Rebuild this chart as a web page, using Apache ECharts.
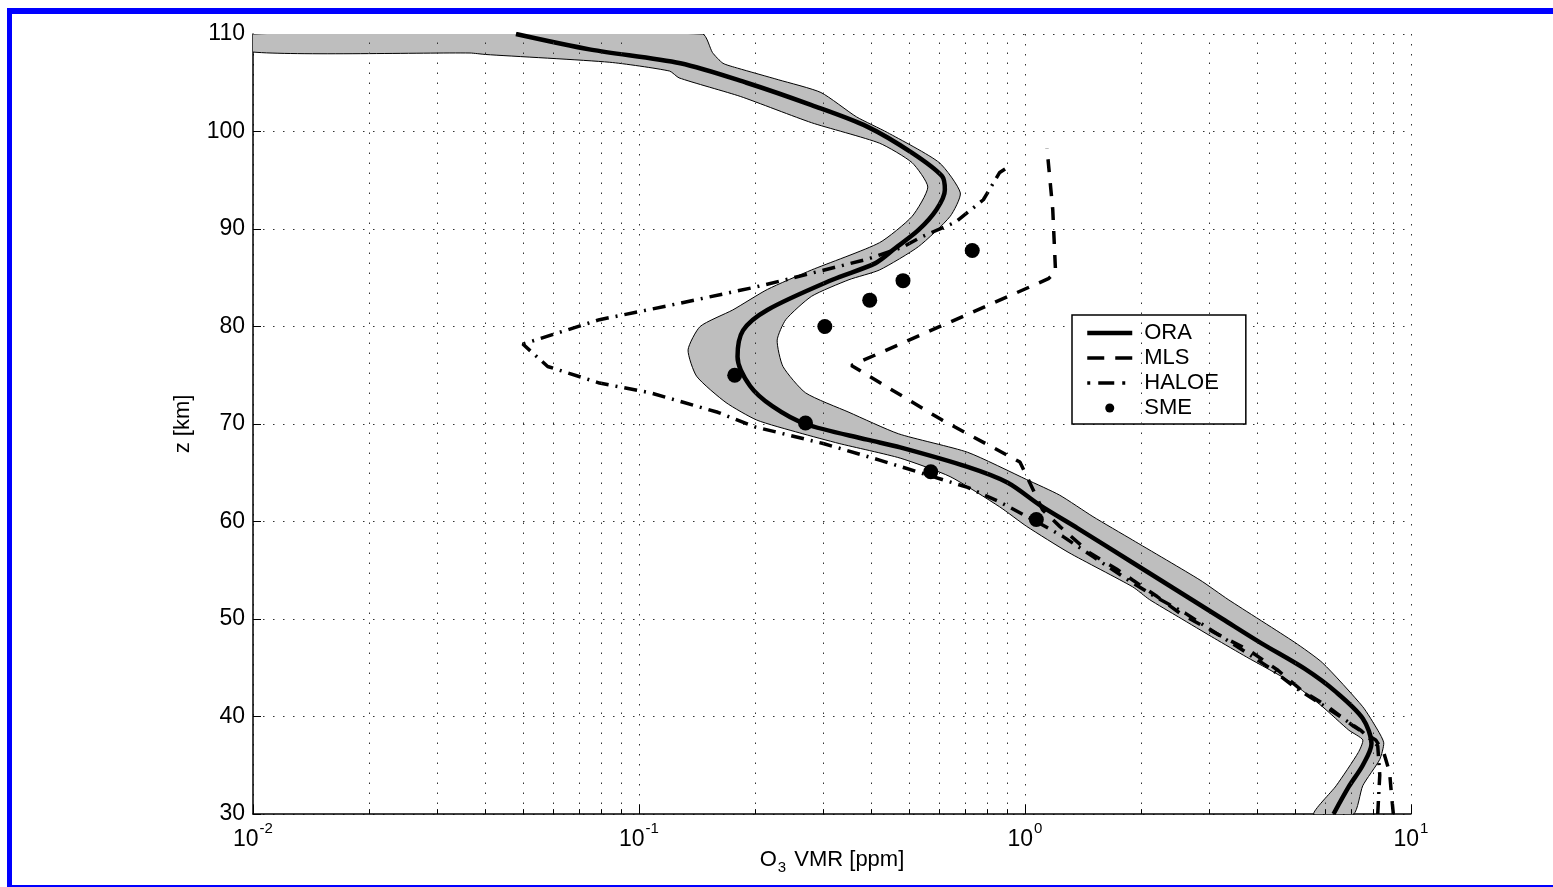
<!DOCTYPE html>
<html>
<head>
<meta charset="utf-8">
<title>O3 VMR profile</title>
<script src="https://cdn.jsdelivr.net/npm/echarts@6/dist/echarts.min.js"></script>
<style>
html, body { margin: 0; padding: 0; background: #fff; }
#frame {
  position: absolute; left: 7px; top: 8px; width: 1546px; height: 879px;
  box-sizing: border-box;
  border-top: 6px solid #0000ff; border-left: 5px solid #0000ff; border-bottom: 2px solid #0000ff;
}
#chart { position: absolute; left: 0; top: 0; width: 1553px; height: 887px; }
</style>
</head>
<body>
<div id="frame"></div>
<div id="chart"></div>
<script>
// ORA retrieval (thick solid line), altitude in km, VMR in ppm
const oraZ = [30, 32.8, 35, 37.2, 39.8, 42.5, 44.9, 47.5, 50, 52, 55.9, 59.3, 61.6, 64, 65.6, 67.6, 68.4, 70, 71.8, 73.9, 76.9, 79.6, 81.7, 84.8, 86.5, 88, 89.9, 92, 94, 95.4, 97.8, 100.5, 102.7, 105, 107, 108.4, 110]
const oraVmr = [6.3, 6.9, 7.5, 7.9, 7.5, 6.4, 5.3, 4.1, 3.25, 2.7, 1.88, 1.37, 1.1, 0.90, 0.71, 0.475, 0.39, 0.27, 0.222, 0.194, 0.180, 0.186, 0.215, 0.317, 0.41, 0.46, 0.53, 0.59, 0.62, 0.61, 0.51, 0.39, 0.28, 0.19, 0.128, 0.075, 0.048]

// gray error band: low edge and high edge
const bandLowZ = [30, 32.9, 36.3, 37.6, 38.6, 41, 43.5, 46.1, 48, 50.2, 52, 53.3, 56.8, 59.5, 61.5, 64.6, 66.5, 68, 69.1, 70.4, 72.2, 74.9, 77.6, 80, 81.7, 83.8, 85.8, 88.6, 91.3, 94.3, 96.8, 98.8, 100.9, 103.6, 105.5, 106.2, 107.1, 107.9, 108.05, 108.15, 110]
const bandLowVmr = [5.6, 6.4, 7.3, 7.5, 6.9, 5.9, 4.9, 3.75, 3.1, 2.5, 2.1, 1.90, 1.3, 1.01, 0.86, 0.64, 0.475, 0.33, 0.26, 0.202, 0.168, 0.141, 0.134, 0.144, 0.175, 0.215, 0.28, 0.42, 0.51, 0.56, 0.51, 0.42, 0.28, 0.183, 0.127, 0.12, 0.084, 0.040, 0.0365, 0.01, 0.01]
const bandHighZ = [30, 32.9, 35.6, 37.3, 38.6, 41, 45.5, 47.6, 52, 54, 58.1, 60.5, 62.7, 64.3, 67.1, 69, 71.2, 73.2, 75.9, 78.6, 80.7, 83.1, 84.8, 85.8, 88.2, 91.3, 93.7, 96.8, 99.9, 101.5, 104, 105.3, 106.5, 107, 108.1, 110]
const bandHighVmr = [7.1, 7.5, 8.3, 8.5, 8.2, 7.5, 5.9, 5.0, 3.36, 2.84, 1.90, 1.50, 1.23, 1.01, 0.71, 0.47, 0.35, 0.27, 0.236, 0.228, 0.24, 0.28, 0.35, 0.42, 0.53, 0.64, 0.68, 0.60, 0.44, 0.366, 0.296, 0.23, 0.18, 0.165, 0.155, 0.146]

// MLS (dashed)
const mlsZ = [30, 32, 34.3, 36.3, 37.6, 39, 41, 42.7, 44.8, 46.8, 48.6, 50.6, 52.3, 54, 55.1, 56.8, 59.5, 61.2, 63.6, 66.1, 70.4, 76, 84.9, 85.6, 92, 98.3]
const mlsVmr = [9.0, 8.9, 8.8, 8.5, 8.1, 7.1, 6.1, 5.2, 4.5, 3.8, 3.1, 2.52, 2.2, 1.9, 1.73, 1.47, 1.23, 1.11, 1.04, 0.97, 0.61, 0.355, 1.15, 1.2, 1.18, 1.14]

// HALOE (dash-dot)
const haloeZ = [30, 34, 37, 38.6, 41, 43, 45, 47, 49, 50.6, 52.3, 54, 56.4, 58.5, 60, 62, 63.5, 66.3, 68, 69.7, 71.2, 73.2, 74.2, 75.9, 78.2, 80.7, 82.1, 84, 84.8, 86.9, 88.1, 89.2, 90.7, 93, 95.8, 96.3]
const haloeVmr = [8.2, 8.3, 8.2, 7.4, 6.0, 5.0, 4.3, 3.6, 3.0, 2.6, 2.17, 1.85, 1.5, 1.25, 1.07, 0.86, 0.71, 0.42, 0.3, 0.20, 0.16, 0.107, 0.079, 0.058, 0.050, 0.079, 0.118, 0.198, 0.24, 0.39, 0.48, 0.54, 0.66, 0.78, 0.86, 0.9]

// SME (dots)
const smeZ = [60.2, 65.1, 70.1, 75, 80, 82.7, 84.7, 87.8]
const smeVmr = [1.07, 0.57, 0.27, 0.177, 0.303, 0.396, 0.483, 0.73]

// axes
const xTickVals = [0.01, 0.1, 1, 10]
const xTickExp = ['-2', '-1', '0', '1']
const xMinor = [0.02, 0.03, 0.04, 0.05, 0.06, 0.07, 0.08, 0.09, 0.2, 0.3, 0.4, 0.5, 0.6, 0.7, 0.8, 0.9, 2, 3, 4, 5, 6, 7, 8, 9]

const FONT = '"Liberation Sans", Arial, Helvetica, sans-serif'
const dotted = { color: '#333', width: 1, type: [1.5, 8.5] }
const pairs = (xs, zs) => zs.map((z, i) => [xs[i], z])

const oraLine = { color: '#000', width: 4.5 }
const mlsLine = { color: '#000', width: 3.5, type: [13, 11] }
const haloeLine = { color: '#000', width: 3.5, type: [13, 7, 2, 7] }

const chart = echarts.init(document.getElementById('chart'))

const option = {
  animation: false,
  backgroundColor: 'transparent',
  textStyle: { fontFamily: FONT, color: '#000' },
  grid: { left: 253, right: 142, top: 34, bottom: 73, containLabel: false, outerBoundsMode: 'none' },
  legend: {
    orient: 'vertical',
    left: 1072,
    top: 315,
    backgroundColor: '#fff',
    borderColor: '#000',
    borderWidth: 1.5,
    borderRadius: 0,
    padding: [7, 27, 5, 13],
    itemWidth: 45,
    itemHeight: 9,
    itemGap: 3,
    selectedMode: false,
    textStyle: { fontFamily: FONT, fontSize: 22, color: '#000', padding: [0, 0, 0, 7] },
    data: [
      { name: 'ORA', itemStyle: { opacity: 0 }, lineStyle: { width: 4.5, type: 'solid' } },
      { name: 'MLS', itemStyle: { opacity: 0 }, lineStyle: { width: 3.5, type: [17, 11, 17] } },
      { name: 'HALOE', itemStyle: { opacity: 0 }, lineStyle: { width: 3.5, type: [3, 8, 16, 8, 3, 30] } },
      { name: 'SME', icon: 'circle' }
    ]
  },
  xAxis: {
    type: 'log',
    logBase: 10,
    min: 0.01,
    max: 10,
    axisLine: { show: true, onZero: false, lineStyle: { color: '#000', width: 1.5 } },
    axisTick: { show: true, inside: true, length: 9, lineStyle: { color: '#000', width: 1 } },
    splitLine: { show: true, lineStyle: dotted },
    axisLabel: {
      margin: 7,
      formatter: (v) => {
        const i = xTickVals.findIndex((t) => Math.abs(Math.log10(t) - Math.log10(v)) < 1e-6)
        return '{b|10}{s|' + (i >= 0 ? xTickExp[i] : '') + '}'
      },
      rich: {
        b: { fontFamily: FONT, fontSize: 23, color: '#000', lineHeight: 30, verticalAlign: 'bottom' },
        s: { fontFamily: FONT, fontSize: 15, color: '#000', lineHeight: 15, verticalAlign: 'top', padding: [0, 0, 0, 1] }
      }
    },
    name: '{o|O}{u|3}{o| VMR [ppm]}',
    nameLocation: 'middle',
    nameGap: 35,
    nameMoveOverlap: false,
    nameTextStyle: {
      rich: {
        o: { fontFamily: FONT, fontSize: 22, color: '#000', lineHeight: 26, verticalAlign: 'top' },
        u: { fontFamily: FONT, fontSize: 15, color: '#000', lineHeight: 15, verticalAlign: 'bottom', padding: [0, 2, 0, 1] }
      }
    }
  },
  yAxis: {
    type: 'value',
    min: 30,
    max: 110,
    interval: 10,
    axisLine: { show: true, onZero: false, lineStyle: { color: '#000', width: 1.5 } },
    axisTick: { show: true, inside: true, length: 8, lineStyle: { color: '#000', width: 1 } },
    splitLine: { show: true, lineStyle: dotted },
    axisLabel: { fontFamily: FONT, fontSize: 23, color: '#000', margin: 8 },
    name: 'z [km]',
    nameLocation: 'middle',
    nameRotate: 90,
    nameGap: 59,
    nameMoveOverlap: false,
    nameTextStyle: { fontFamily: FONT, fontSize: 22, color: '#000' }
  },
  series: [
    {
      // minor grid lines of the log axis
      type: 'line',
      name: 'grid',
      data: [],
      z: 0,
      silent: true,
      markLine: {
        silent: true,
        symbol: ['none', 'none'],
        label: { show: false },
        emphasis: { disabled: true },
        lineStyle: dotted,
        data: xMinor.map((v) => ({ xAxis: v }))
      }
    },
    {
      // minor ticks of the log axis
      type: 'line',
      name: 'ticks',
      data: [],
      z: 5,
      silent: true,
      markLine: {
        silent: true,
        symbol: ['none', 'none'],
        label: { show: false },
        emphasis: { disabled: true },
        lineStyle: { color: '#000', width: 1, type: 'solid' },
        data: xMinor.map((v) => [{ coord: [v, 30] }, { coord: [v, 30.5] }])
      }
    },
    {
      type: 'custom',
      name: 'band',
      z: 1,
      silent: true,
      clip: true,
      data: [[oraVmr[0], oraZ[0]]],
      renderItem: (params, api) => {
        const pts = bandLowZ.map((z, i) => api.coord([bandLowVmr[i], z]))
        for (let i = bandHighZ.length - 1; i >= 0; i--) {
          pts.push(api.coord([bandHighVmr[i], bandHighZ[i]]))
        }
        return {
          type: 'polygon',
          shape: { points: pts, smooth: 0.2 },
          style: { fill: '#bebebe', stroke: '#000', lineWidth: 1 }
        }
      }
    },
    {
      type: 'line',
      name: 'ORA',
      z: 4,
      data: pairs(oraVmr, oraZ),
      symbol: 'none',
      smooth: 0.3,
      color: '#000',
      lineStyle: oraLine
    },
    {
      type: 'line',
      name: 'MLS',
      z: 3,
      data: pairs(mlsVmr, mlsZ),
      symbol: 'none',
      color: '#000',
      lineStyle: mlsLine
    },
    {
      type: 'line',
      name: 'HALOE',
      z: 3,
      data: pairs(haloeVmr, haloeZ),
      symbol: 'none',
      color: '#000',
      lineStyle: haloeLine
    },
    {
      type: 'scatter',
      name: 'SME',
      z: 5,
      data: pairs(smeVmr, smeZ),
      symbol: 'circle',
      symbolSize: 15,
      itemStyle: { color: '#000', opacity: 1 }
    }
  ]
}

chart.setOption(option)
</script>
</body>
</html>
